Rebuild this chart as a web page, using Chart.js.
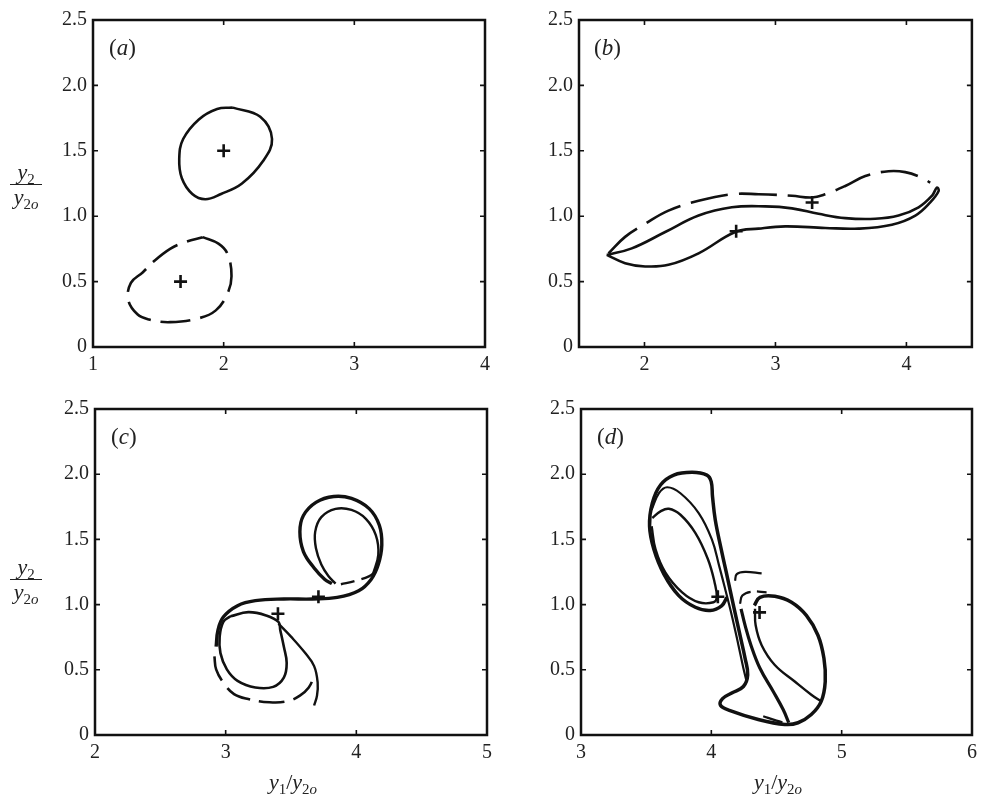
<!DOCTYPE html>
<html>
<head>
<meta charset="utf-8">
<script src="https://cdn.jsdelivr.net/npm/chart.js@4.4.1/dist/chart.umd.min.js"></script>
<style>
  html, body { margin:0; padding:0; background:#fff; }
  body { width:983px; height:801px; position:relative; overflow:hidden; font-family:"Liberation Serif", "Times New Roman", Times, serif; color:#222; }
  canvas { position:absolute; }
  .frac { position:absolute; width:38px; text-align:center; font-size:22px; }
  .frac .num, .frac .den { height:22px; line-height:22px; white-space:nowrap; }
  .frac .bar { height:1.4px; background:#222; margin:1px 3px; }
  sub { font-size:68%; vertical-align:baseline; position:relative; top:0.32em; }
  .xt { position:absolute; width:140px; text-align:center; font-size:22px; line-height:24px; white-space:nowrap; }
  .pl { position:absolute; font-size:23px; line-height:24px; }
</style>
</head>
<body>
<canvas id="ca"></canvas>
<canvas id="cb"></canvas>
<canvas id="cc"></canvas>
<canvas id="cd"></canvas>

<div class="frac" style="left:7px; top:161px;"><div class="num"><i>y</i><sub>2</sub></div><div class="bar"></div><div class="den"><i>y</i><sub>2<i>o</i></sub></div></div>
<div class="frac" style="left:7px; top:556px;"><div class="num"><i>y</i><sub>2</sub></div><div class="bar"></div><div class="den"><i>y</i><sub>2<i>o</i></sub></div></div>
<div class="xt" style="left:223px; top:770px;"><i>y</i><sub>1</sub>/<i>y</i><sub>2<i>o</i></sub></div>
<div class="xt" style="left:708px; top:770px;"><i>y</i><sub>1</sub>/<i>y</i><sub>2<i>o</i></sub></div>
<div class="pl" style="left:109px; top:36px;">(<i>a</i>)</div>
<div class="pl" style="left:594px; top:36px;">(<i>b</i>)</div>
<div class="pl" style="left:111px; top:425px;">(<i>c</i>)</div>
<div class="pl" style="left:597px; top:425px;">(<i>d</i>)</div>

<script>
// ---------- tick values and labels ----------
const yTicks = [0, 0.5, 1, 1.5, 2, 2.5];
const yTickLabels = ['0', '0.5', '1.0', '1.5', '2.0', '2.5'];
const xTicksA = [1, 2, 3, 4];       const xLabelsA = ['1', '2', '3', '4'];
const xTicksB = [2, 3, 4];          const xLabelsB = ['2', '3', '4'];
const xTicksC = [2, 3, 4, 5];       const xLabelsC = ['2', '3', '4', '5'];
const xTicksD = [3, 4, 5, 6];       const xLabelsD = ['3', '4', '5', '6'];

// ---------- panel (a) ----------
const aSolid = [[2.07,1.83],[2.28,1.76],[2.37,1.59],[2.30,1.42],[2.14,1.25],[1.98,1.17],[1.86,1.13],[1.76,1.17],[1.68,1.29],[1.66,1.44],[1.69,1.59],[1.81,1.74],[1.95,1.82],[2.07,1.83]];
const aDashed = [[1.84,0.84],[1.96,0.79],[2.03,0.71],[2.06,0.54],[2.03,0.41],[1.94,0.28],[1.81,0.22],[1.59,0.19],[1.43,0.21],[1.34,0.25],[1.27,0.36],[1.29,0.49],[1.38,0.57],[1.46,0.65],[1.59,0.75],[1.70,0.80],[1.84,0.84]];
const aMarks = [[2.0,1.5],[1.67,0.5]];

// ---------- panel (b) ----------
const bSolid = [[1.712,0.704],[1.852,0.641],[2.005,0.616],[2.183,0.628],[2.413,0.716],[2.693,0.879],[2.871,0.905],[3.075,0.922],[3.380,0.910],[3.635,0.905],[3.889,0.935],[4.068,1.005],[4.182,1.106],[4.246,1.193],[4.233,1.219],[4.195,1.156],[4.093,1.068],[3.940,1.005],[3.762,0.980],[3.533,0.985],[3.329,1.018],[3.126,1.060],[2.922,1.075],[2.667,1.068],[2.413,1.005],[2.158,0.879],[1.903,0.754],[1.712,0.704]];
const bDashed = [[1.725,0.716],[1.852,0.842],[2.005,0.942],[2.183,1.043],[2.413,1.118],[2.667,1.168],[2.871,1.168],[3.126,1.156],[3.278,1.143],[3.380,1.168],[3.533,1.231],[3.686,1.307],[3.864,1.344],[3.991,1.337],[4.119,1.294],[4.182,1.256]];
const bMarks = [[2.70,0.885],[3.28,1.105]];

// ---------- panel (c) ----------
const cBand = [[2.927,0.678],[2.941,0.804],[2.982,0.905],[3.091,0.992],[3.227,1.030],[3.445,1.043],[3.664,1.043],[3.854,1.055],[4.018,1.106],[4.113,1.193],[4.168,1.307],[4.195,1.457],[4.176,1.608],[4.100,1.734],[3.963,1.814],[3.827,1.829],[3.691,1.784],[3.595,1.683],[3.568,1.558],[3.595,1.407],[3.677,1.281],[3.759,1.193],[3.813,1.161]];
const cInnerUp = [[4.127,1.231],[4.168,1.382],[4.149,1.533],[4.073,1.658],[3.963,1.726],[3.841,1.734],[3.732,1.671],[3.685,1.558],[3.691,1.432],[3.732,1.307],[3.786,1.219],[3.841,1.161]];
const cDashUp = [[3.882,1.156],[3.991,1.181],[4.100,1.219],[4.149,1.256]];
const cInnerLow = [[3.036,0.910],[3.173,0.942],[3.309,0.917],[3.404,0.867],[3.418,0.804],[3.445,0.678],[3.467,0.553],[3.445,0.440],[3.364,0.369],[3.227,0.364],[3.091,0.415],[3.009,0.503],[2.960,0.628],[2.954,0.754],[2.982,0.867],[3.036,0.910]];
const cTail = [[3.404,0.854],[3.500,0.754],[3.609,0.628],[3.677,0.528],[3.704,0.402],[3.699,0.302],[3.677,0.226]];
const cDashLow = [[2.914,0.603],[2.927,0.503],[2.982,0.402],[3.064,0.314],[3.173,0.276],[3.336,0.251],[3.473,0.259],[3.568,0.302],[3.636,0.364],[3.677,0.452]];
const cMarks = [[3.40,0.93],[3.71,1.06]];

// ---------- panel (d) ----------
const dThick = [[4.119,1.056],[4.081,0.993],[3.992,0.955],[3.877,0.980],[3.750,1.069],[3.636,1.234],[3.559,1.424],[3.526,1.601],[3.547,1.778],[3.610,1.917],[3.712,1.993],[3.852,2.014],[3.966,1.993],[3.999,1.943],[4.009,1.829],[4.030,1.651],[4.076,1.424],[4.126,1.196],[4.170,0.993],[4.220,0.765],[4.259,0.588],[4.279,0.461],[4.246,0.372],[4.157,0.322],[4.086,0.279],[4.070,0.228],[4.144,0.187],[4.360,0.119],[4.564,0.081],[4.665,0.094],[4.767,0.157],[4.843,0.258],[4.874,0.410],[4.864,0.588],[4.818,0.765],[4.729,0.917],[4.615,1.018],[4.487,1.064],[4.373,1.056],[4.330,0.993]];
const dThickLow = [[4.228,0.968],[4.259,0.841],[4.304,0.689],[4.373,0.512],[4.475,0.334],[4.551,0.195],[4.594,0.094]];
const dMid = [[3.542,1.727],[3.598,1.854],[3.661,1.900],[3.763,1.854],[3.903,1.702],[4.004,1.500],[4.060,1.297],[4.106,1.120],[4.157,0.917],[4.208,0.689],[4.246,0.512],[4.271,0.410]];
const dInnerUp = [[3.547,1.664],[3.610,1.715],[3.674,1.735],[3.763,1.689],[3.877,1.550],[3.974,1.348],[4.025,1.170],[4.042,1.056],[4.017,1.018],[3.903,1.018],[3.776,1.094],[3.648,1.246],[3.572,1.424],[3.542,1.601]];
const dInnerLow = [[4.335,0.968],[4.340,0.841],[4.386,0.689],[4.487,0.537],[4.640,0.410],[4.767,0.309],[4.843,0.258]];
const dHook1 = [[4.182,1.183],[4.195,1.234],[4.259,1.251],[4.386,1.239]];
const dHook2 = [[4.220,1.006],[4.238,1.069],[4.309,1.099],[4.424,1.094]];
const dDashLow = [[4.398,0.144],[4.500,0.110],[4.615,0.081]];
const dMarks = [[4.05,1.06],[4.37,0.94]];

// ---------- helpers ----------
const INK = '#111';
const SERIF = "'Liberation Serif', 'Times New Roman', Times, serif";
const pts = arr => arr.map(([x, y]) => ({x, y}));
function curve(arr, width, dash) {
  return { data: pts(arr), showLine: true, borderColor: INK, borderWidth: width,
           borderDash: dash || [], pointRadius: 0, tension: 0.4, fill: false, borderCapStyle: 'butt' };
}
function marks(arr) {
  return { data: pts(arr), showLine: false, pointStyle: 'cross', pointRadius: 6.5,
           borderColor: INK, pointBorderColor: INK, pointBorderWidth: 2.6, borderWidth: 2.6 };
}

const framePlugin = {
  id: 'frame',
  afterDatasetsDraw(chart) {
    const {ctx, chartArea: {left, top, right, bottom}, scales: {x, y}} = chart;
    ctx.save();
    ctx.strokeStyle = INK;
    ctx.lineWidth = 2.5;
    ctx.strokeRect(left, top, right - left, bottom - top);
    ctx.lineWidth = 1.6;
    ctx.beginPath();
    x.ticks.forEach(t => {
      const p = x.getPixelForValue(t.value);
      if (p > left + 3 && p < right - 3) {
        ctx.moveTo(p, bottom); ctx.lineTo(p, bottom - 5);
        ctx.moveTo(p, top); ctx.lineTo(p, top + 5);
      }
    });
    y.ticks.forEach(t => {
      const p = y.getPixelForValue(t.value);
      if (p > top + 3 && p < bottom - 3) {
        ctx.moveTo(left, p); ctx.lineTo(left + 5, p);
        ctx.moveTo(right, p); ctx.lineTo(right - 5, p);
      }
    });
    ctx.stroke();
    ctx.restore();
  }
};

function makePanel(id, box, xMin, xMax, xTicks, xLabels, datasets) {
  const cl = box.l - 55, ct = box.t - 15;
  const cw = box.r - cl + 8, ch = box.b - ct + 38;
  const cv = document.getElementById(id);
  cv.width = cw; cv.height = ch;
  cv.style.left = cl + 'px'; cv.style.top = ct + 'px';
  cv.style.width = cw + 'px'; cv.style.height = ch + 'px';
  const tickFont = {family: SERIF, size: 20};
  new Chart(cv, {
    type: 'scatter',
    data: {datasets},
    options: {
      responsive: false, animation: false, devicePixelRatio: 1,
      layout: {padding: {top: box.t - ct, right: cl + cw - box.r, left: 0, bottom: 0}},
      plugins: {legend: {display: false}, tooltip: {enabled: false}},
      scales: {
        x: {
          type: 'linear', min: xMin, max: xMax,
          afterBuildTicks: s => { s.ticks = xTicks.map(v => ({value: v})); },
          afterFit: s => { s.height = ct + ch - box.b; },
          ticks: {callback: (v, i) => xLabels[i], font: tickFont, color: '#222', padding: 6, maxRotation: 0, autoSkip: false},
          grid: {display: false, drawTicks: false}, border: {display: false}
        },
        y: {
          type: 'linear', min: 0, max: 2.5,
          afterBuildTicks: s => { s.ticks = yTicks.map(v => ({value: v})); },
          afterFit: s => { s.width = box.l - cl; },
          ticks: {callback: (v, i) => yTickLabels[i], font: tickFont, color: '#222', padding: 6, autoSkip: false},
          grid: {display: false, drawTicks: false}, border: {display: false}
        }
      }
    },
    plugins: [framePlugin]
  });
}

makePanel('ca', {l: 93, t: 17, r: 488, b: 347}, 1, 4, xTicksA, xLabelsA, [
  curve(aSolid, 2.6), curve(aDashed, 2.6, [30, 10]), marks(aMarks)
]);
makePanel('cb', {l: 579, t: 17, r: 973, b: 347}, 1.5, 4.5, xTicksB, xLabelsB, [
  curve(bSolid, 2.6), curve(bDashed, 2.6, [38, 11]), marks(bMarks)
]);
makePanel('cc', {l: 95, t: 406, r: 490, b: 735}, 2, 5, xTicksC, xLabelsC, [
  curve(cBand, 3.4), curve(cInnerUp, 2.4), curve(cDashUp, 2.4, [14, 7]),
  curve(cInnerLow, 2.6), curve(cTail, 2.4), curve(cDashLow, 2.6, [26, 9]), marks(cMarks)
]);
makePanel('cd', {l: 581, t: 406, r: 975, b: 735}, 3, 6, xTicksD, xLabelsD, [
  curve(dThick, 3.5), curve(dThickLow, 3.2), curve(dMid, 2.2), curve(dInnerUp, 2.4),
  curve(dInnerLow, 2.4), curve(dHook1, 2.2), curve(dHook2, 2.2, [18, 6]), curve(dDashLow, 2.2, [20, 8]),
  marks(dMarks)
]);
</script>
</body>
</html>
